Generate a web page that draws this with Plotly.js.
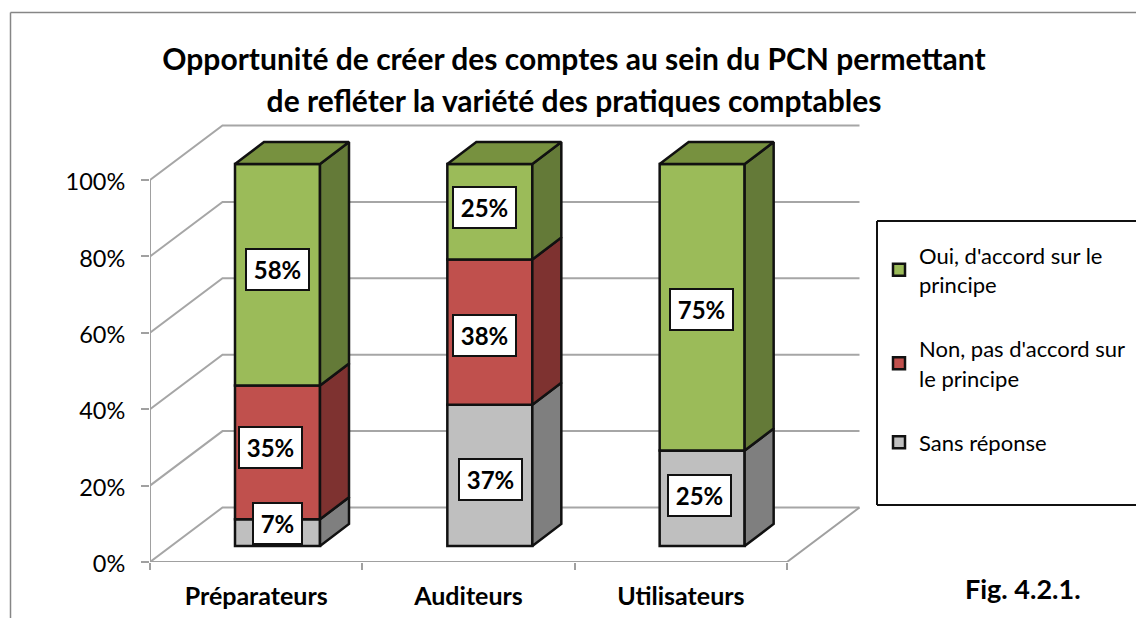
<!DOCTYPE html>
<html><head><meta charset="utf-8">
<script src="https://cdn.plot.ly/plotly-3.0.1.min.js"></script>
<style>html,body{margin:0;padding:0;background:#fff}</style></head>
<body><div id="chart" style="width:1136px;height:618px"></div>
<script>
const categories = ["Préparateurs", "Auditeurs", "Utilisateurs"];
const sansReponse = [7, 37, 25];
const nonAccord = [35, 38, 0];
const ouiAccord = [58, 25, 75];
const legendLines = [["Sans réponse"], ["Non, pas d'accord sur", "le principe"], ["Oui, d'accord sur le", "principe"]];
const frontColors = ["#BFBFBF", "#C0504D", "#9BBB59"];
const sideColors = ["#7F7F7F", "#7E3230", "#647A38"];
const topColors = ["#989898", "#99403D", "#77913F"];
const yTicks = [0, 20, 40, 60, 80, 100];
const labelNudges = [
  [[0, 9], [1, -4], [-3, 3]],
  [[-7, 5], [-5, -3], [0, 0]],
  [[0, 5], [-5, 4], [-1, -2]]
];

const series = [sansReponse, nonAccord, ouiAccord];
const W = 1136, H = 618, L = 150, R = 870, T = 120, B = 562;
const catPx = 212.33, valPx = 3.82;
const wallDx = 72.5 / catPx, wallDy = 54.5 / valPx;
const barDx = 29 / catPx, barDy = 22 / valPx;
const barOffset = 127.5 / catPx, barWidth = 85 / catPx, barLift = 16 / valPx;
const paperX = p => (p - L) / (R - L), paperY = p => (B - p) / (B - T);

const traces = [], annotations = [];
series.forEach((vals, s) => {
  const bases = vals.map((_, c) => barLift + series.slice(0, s).reduce((a, v) => a + v[c], 0));
  const xs = vals.map((_, c) => c + barOffset);
  traces.push({
    type: "bar", x: xs, y: vals, base: bases, width: barWidth,
    name: legendLines[s].map(t => '<span style="font-size:22px">' + t + '</span>').join("<br>"),
    legendgroup: "g" + s, legendrank: 3 - s,
    marker: {color: frontColors[s], line: {color: "#111", width: 2.5}},
    hoverinfo: "skip"
  });
  const sx = [], sy = [], tx = [], ty = [];
  vals.forEach((v, c) => {
    if (!v) return;
    const xr = xs[c] + barWidth / 2, xl = xs[c] - barWidth / 2, b = bases[c], t = b + v;
    sx.push(xr, xr + barDx, xr + barDx, xr, xr, null);
    sy.push(b, b + barDy, t + barDy, t, b, null);
    if (t - barLift >= 99.5) {
      tx.push(xl, xl + barDx, xr + barDx, xr, xl, null);
      ty.push(t, t + barDy, t + barDy, t, t, null);
    }
    annotations.push({
      x: xs[c], y: b + v / 2, xref: "x", yref: "y", showarrow: false,
      text: "<b>" + v + "%</b>", font: {family: "Lato", size: 24, color: "#000"},
      bgcolor: "#fff", bordercolor: "#111", borderwidth: 2, borderpad: 0,
      width: v < 10 ? 47 : 61, height: 39,
      xshift: labelNudges[s][c][0], yshift: labelNudges[s][c][1]
    });
  });
  traces.push({type: "scatter", mode: "lines", x: sx, y: sy, fill: "toself", fillcolor: sideColors[s],
    line: {color: "#111", width: 2.5}, showlegend: false, hoverinfo: "skip"});
  if (tx.length) traces.push({type: "scatter", mode: "lines", x: tx, y: ty, fill: "toself", fillcolor: topColors[s],
    line: {color: "#111", width: 2.5}, showlegend: false, hoverinfo: "skip"});
});

const n = categories.length;
traces.push({type: "scatter", mode: "lines", cliponaxis: false, showlegend: false, hoverinfo: "skip",
  x: [0, 0, n, n + wallDx], y: [100, 0, 0, wallDy], line: {color: "#A0A0A0", width: 2}});

const gridShapes = yTicks.map(v => ({
  type: "path", layer: "below", xref: "x", yref: "y",
  path: `M0,${v} L${wallDx},${v + wallDy} L${n + wallDx},${v + wallDy}`,
  line: {color: "#A6A6A6", width: 2}
}));
const pLine = (x0, y0, x1, y1, color, width) => ({type: "line", xref: "paper", yref: "paper",
  x0: paperX(x0), x1: paperX(x1), y0: paperY(y0), y1: paperY(y1), line: {color, width}});
const shapes = gridShapes.concat([
  pLine(10.5, 12.5, 1136, 12.5, "#868686", 1.5),
  pLine(10.5, 12.5, 10.5, 618, "#868686", 1.5),
  pLine(877, 221, 1136, 221, "#111", 2),
  pLine(877, 221, 877, 505, "#111", 2),
  pLine(877, 505, 1136, 505, "#111", 2)
]);
annotations.push({xref: "paper", yref: "paper", x: paperX(1023), y: paperY(588), xanchor: "center", yanchor: "middle", showarrow: false,
  text: "<b>Fig. 4.2.1.</b>", font: {family: "Lato", size: 27, color: "#000"}});

Plotly.newPlot("chart", traces, {
  width: W, height: H, autosize: false, showlegend: true,
  margin: {l: L, r: W - R, t: T, b: H - B, pad: 0, autoexpand: false},
  paper_bgcolor: "#fff", plot_bgcolor: "rgba(0,0,0,0)",
  barmode: "overlay",
  font: {family: "Lato", color: "#000"},
  title: {
    text: '<b><span style="font-size:30px">Opportunité de créer des comptes au sein du PCN permettant</span><br><span style="font-size:30px">de refléter la variété des pratiques comptables</span></b>',
    font: {family: "Lato", size: 32, color: "#000"},
    x: paperX(574), xref: "paper", xanchor: "center",
    y: 1 - 70 / H, yref: "container", yanchor: "middle"
  },
  xaxis: {
    type: "linear", range: [0, (R - L) / catPx], showgrid: false, zeroline: false, showline: false,
    tickmode: "array", tickvals: categories.map((_, i) => i + 0.5), ticktext: categories.map(c => "<b>" + c + "</b>"),
    ticks: "", ticklabelstandoff: 17, tickfont: {family: "Lato", size: 25, color: "#000"},
    minor: {tickmode: "array", tickvals: [0, 1, 2, 3], ticks: "outside", ticklen: 7, tickwidth: 2, tickcolor: "#A0A0A0", showgrid: false}
  },
  yaxis: {
    range: [0, (B - T) / valPx], showgrid: false, zeroline: false, showline: false,
    tickmode: "array", tickvals: yTicks, ticktext: yTicks.map(v => v + "%"),
    ticks: "outside", ticklen: 8, tickwidth: 2, tickcolor: "#A0A0A0",
    ticklabelstandoff: 11, ticklabelshift: 2, tickfont: {family: "Lato", size: 23.5, color: "#000"}
  },
  legend: {
    x: paperX(879), y: paperY(234), xanchor: "left", yanchor: "top",
    traceorder: "grouped", tracegroupgap: 32, borderwidth: 0, bgcolor: "rgba(0,0,0,0)",
    font: {family: "Lato", size: 22.5, color: "#000"}
  },
  shapes, annotations
}, {displayModeBar: false, staticPlot: true});
</script></body></html>
